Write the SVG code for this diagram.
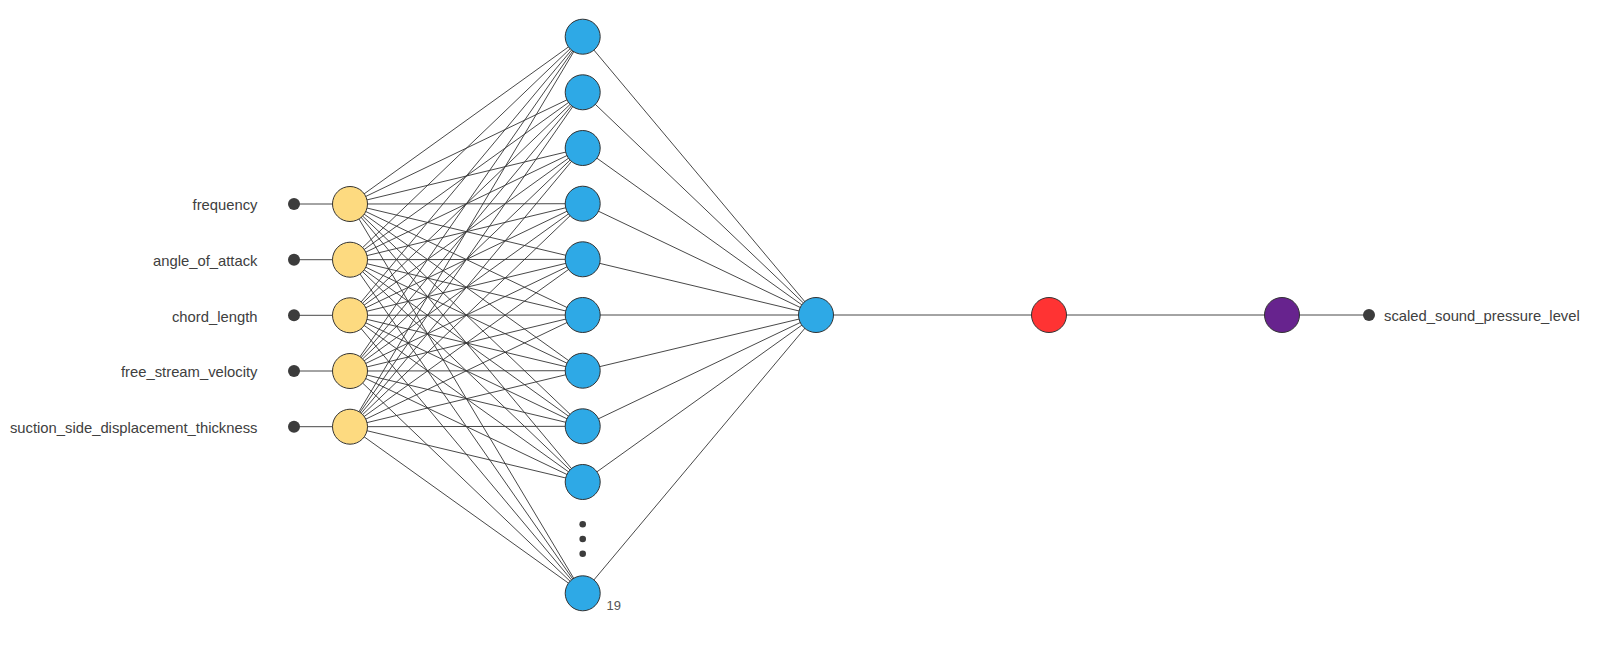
<svg xmlns="http://www.w3.org/2000/svg" width="1623" height="655" viewBox="0 0 1623 655">
<style>
.bg{fill:#ffffff}
.e{stroke:#333333;stroke-width:0.9;fill:none}
.n{stroke:#333333;stroke-width:1}
.in{fill:#FDDA80}
.hid{fill:#2EA9E6}
.act{fill:#FF3333}
.out{fill:#67238E}
.dot{fill:#3c3c3c}
.lbl{font-family:"Liberation Sans",Arial,sans-serif;font-size:14.8px;fill:#404040}
.cnt{font-family:"Liberation Sans",Arial,sans-serif;font-size:13px;fill:#555555}
</style>
<rect class="bg" x="0" y="0" width="1623" height="655"/>
<g id="connectors" class="e">
<line x1="294" y1="204" x2="350" y2="204"/>
<line x1="294" y1="259.7" x2="350" y2="259.7"/>
<line x1="294" y1="315.3" x2="350" y2="315.3"/>
<line x1="294" y1="371" x2="350" y2="371"/>
<line x1="294" y1="426.7" x2="350" y2="426.7"/>
<line x1="350" y1="204" x2="582.7" y2="36.7"/><line x1="350" y1="204" x2="582.7" y2="92.3"/><line x1="350" y1="204" x2="582.7" y2="148"/><line x1="350" y1="204" x2="582.7" y2="203.7"/><line x1="350" y1="204" x2="582.7" y2="259.3"/><line x1="350" y1="204" x2="582.7" y2="315"/><line x1="350" y1="204" x2="582.7" y2="370.7"/><line x1="350" y1="204" x2="582.7" y2="426.3"/><line x1="350" y1="204" x2="582.7" y2="482"/><line x1="350" y1="204" x2="582.7" y2="593.3"/>
<line x1="350" y1="259.7" x2="582.7" y2="36.7"/><line x1="350" y1="259.7" x2="582.7" y2="92.3"/><line x1="350" y1="259.7" x2="582.7" y2="148"/><line x1="350" y1="259.7" x2="582.7" y2="203.7"/><line x1="350" y1="259.7" x2="582.7" y2="259.3"/><line x1="350" y1="259.7" x2="582.7" y2="315"/><line x1="350" y1="259.7" x2="582.7" y2="370.7"/><line x1="350" y1="259.7" x2="582.7" y2="426.3"/><line x1="350" y1="259.7" x2="582.7" y2="482"/><line x1="350" y1="259.7" x2="582.7" y2="593.3"/>
<line x1="350" y1="315.3" x2="582.7" y2="36.7"/><line x1="350" y1="315.3" x2="582.7" y2="92.3"/><line x1="350" y1="315.3" x2="582.7" y2="148"/><line x1="350" y1="315.3" x2="582.7" y2="203.7"/><line x1="350" y1="315.3" x2="582.7" y2="259.3"/><line x1="350" y1="315.3" x2="582.7" y2="315"/><line x1="350" y1="315.3" x2="582.7" y2="370.7"/><line x1="350" y1="315.3" x2="582.7" y2="426.3"/><line x1="350" y1="315.3" x2="582.7" y2="482"/><line x1="350" y1="315.3" x2="582.7" y2="593.3"/>
<line x1="350" y1="371" x2="582.7" y2="36.7"/><line x1="350" y1="371" x2="582.7" y2="92.3"/><line x1="350" y1="371" x2="582.7" y2="148"/><line x1="350" y1="371" x2="582.7" y2="203.7"/><line x1="350" y1="371" x2="582.7" y2="259.3"/><line x1="350" y1="371" x2="582.7" y2="315"/><line x1="350" y1="371" x2="582.7" y2="370.7"/><line x1="350" y1="371" x2="582.7" y2="426.3"/><line x1="350" y1="371" x2="582.7" y2="482"/><line x1="350" y1="371" x2="582.7" y2="593.3"/>
<line x1="350" y1="426.7" x2="582.7" y2="36.7"/><line x1="350" y1="426.7" x2="582.7" y2="92.3"/><line x1="350" y1="426.7" x2="582.7" y2="148"/><line x1="350" y1="426.7" x2="582.7" y2="203.7"/><line x1="350" y1="426.7" x2="582.7" y2="259.3"/><line x1="350" y1="426.7" x2="582.7" y2="315"/><line x1="350" y1="426.7" x2="582.7" y2="370.7"/><line x1="350" y1="426.7" x2="582.7" y2="426.3"/><line x1="350" y1="426.7" x2="582.7" y2="482"/><line x1="350" y1="426.7" x2="582.7" y2="593.3"/>
<line x1="582.7" y1="36.7" x2="816" y2="315"/><line x1="582.7" y1="92.3" x2="816" y2="315"/><line x1="582.7" y1="148" x2="816" y2="315"/><line x1="582.7" y1="203.7" x2="816" y2="315"/><line x1="582.7" y1="259.3" x2="816" y2="315"/><line x1="582.7" y1="315" x2="816" y2="315"/><line x1="582.7" y1="370.7" x2="816" y2="315"/><line x1="582.7" y1="426.3" x2="816" y2="315"/><line x1="582.7" y1="482" x2="816" y2="315"/><line x1="582.7" y1="593.3" x2="816" y2="315"/>
<line x1="816" y1="315" x2="1049" y2="315"/>
<line x1="1049" y1="315" x2="1282" y2="315"/>
<line x1="1282" y1="315" x2="1369" y2="315"/>
</g>
<g id="input-terminals">
<circle class="dot" cx="294" cy="204" r="6"/>
<circle class="dot" cx="294" cy="259.7" r="6"/>
<circle class="dot" cx="294" cy="315.3" r="6"/>
<circle class="dot" cx="294" cy="371" r="6"/>
<circle class="dot" cx="294" cy="426.7" r="6"/>
<text class="lbl" x="257.5" y="210.3" text-anchor="end">frequency</text>
<text class="lbl" x="257.5" y="266" text-anchor="end">angle_of_attack</text>
<text class="lbl" x="257.5" y="321.6" text-anchor="end">chord_length</text>
<text class="lbl" x="257.5" y="377.3" text-anchor="end">free_stream_velocity</text>
<text class="lbl" x="257.5" y="433" text-anchor="end">suction_side_displacement_thickness</text>
</g>
<g id="in1"><circle class="n in" cx="350" cy="204" r="17.5"/></g>
<g id="in2"><circle class="n in" cx="350" cy="259.7" r="17.5"/></g>
<g id="in3"><circle class="n in" cx="350" cy="315.3" r="17.5"/></g>
<g id="in4"><circle class="n in" cx="350" cy="371" r="17.5"/></g>
<g id="in5"><circle class="n in" cx="350" cy="426.7" r="17.5"/></g>
<g id="h1"><circle class="n hid" cx="582.7" cy="36.7" r="17.5"/></g>
<g id="h2"><circle class="n hid" cx="582.7" cy="92.3" r="17.5"/></g>
<g id="h3"><circle class="n hid" cx="582.7" cy="148" r="17.5"/></g>
<g id="h4"><circle class="n hid" cx="582.7" cy="203.7" r="17.5"/></g>
<g id="h5"><circle class="n hid" cx="582.7" cy="259.3" r="17.5"/></g>
<g id="h6"><circle class="n hid" cx="582.7" cy="315" r="17.5"/></g>
<g id="h7"><circle class="n hid" cx="582.7" cy="370.7" r="17.5"/></g>
<g id="h8"><circle class="n hid" cx="582.7" cy="426.3" r="17.5"/></g>
<g id="h9"><circle class="n hid" cx="582.7" cy="482" r="17.5"/></g>
<g id="ellipsis">
<circle class="dot" cx="582.7" cy="524.3" r="3.3"/>
<circle class="dot" cx="582.7" cy="539" r="3.3"/>
<circle class="dot" cx="582.7" cy="553.7" r="3.3"/>
</g>
<g id="h19"><circle class="n hid" cx="582.7" cy="593.3" r="17.5"/><text class="cnt" x="606.5" y="610">19</text></g>
<g id="out-node"><circle class="n hid" cx="816" cy="315" r="17.5"/></g>
<g id="activation"><circle class="n act" cx="1049" cy="315" r="17.5"/></g>
<g id="output"><circle class="n out" cx="1282" cy="315" r="17.5"/></g>
<g id="output-terminal">
<circle class="dot" cx="1369" cy="315" r="6"/>
<text class="lbl" x="1384" y="321">scaled_sound_pressure_level</text>
</g>
</svg>
